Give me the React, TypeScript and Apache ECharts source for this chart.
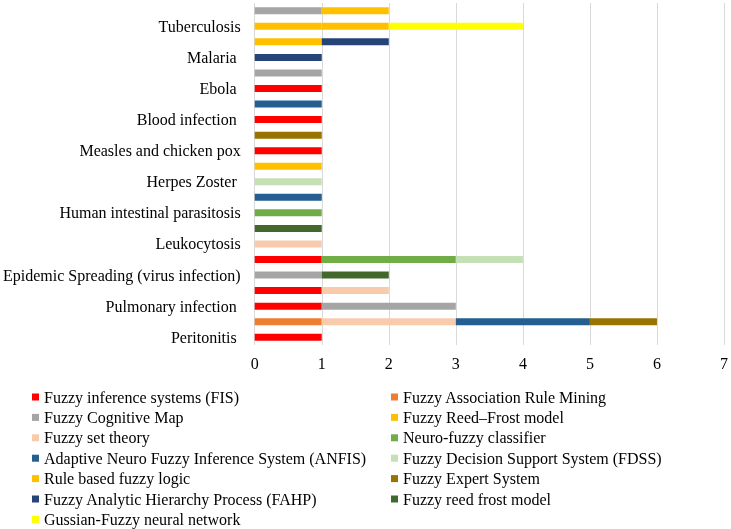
import React, { useEffect, useRef } from "react";
import * as echarts from "echarts";

// Rows from bottom (index 0) to top (index 21); only every second row carries a label
const categories = [
  "Peritonitis ", "", "Pulmonary infection ", "", "Epidemic Spreading (virus infection)", "",
  "Leukocytosis", "", "Human intestinal parasitosis", "", "Herpes Zoster ", "",
  "Measles and chicken pox", "", "Blood infection ", "", "Ebola ", "",
  "Malaria ", "", "Tuberculosis", "",
];

const seriesNames = [
  "Fuzzy inference systems (FIS)",
  "Fuzzy Association Rule Mining",
  "Fuzzy Cognitive Map",
  "Fuzzy Reed–Frost model",
  "Fuzzy set theory",
  "Neuro-fuzzy classifier",
  "Adaptive Neuro Fuzzy Inference System (ANFIS)",
  "Fuzzy Decision Support System (FDSS)",
  "Rule based fuzzy logic",
  "Fuzzy Expert System",
  "Fuzzy Analytic Hierarchy Process (FAHP)",
  "Fuzzy reed frost model",
  "Gussian-Fuzzy neural network",
];

const seriesColors = [
  "#FF0000", "#ED7D31", "#A5A5A5", "#FFC000", "#F8CBAD", "#70AD47", "#255E91",
  "#C5E0B4", "#FFC000", "#997300", "#264478", "#43682B", "#FFFF00",
];

const fisValues = [1, 0, 1, 1, 0, 1, 0, 0, 0, 0, 0, 0, 1, 0, 1, 0, 1, 0, 0, 0, 0, 0];
const farmValues = [0, 1, 0, 0, 0, 0, 0, 0, 0, 0, 0, 0, 0, 0, 0, 0, 0, 0, 0, 0, 0, 0];
const fcmValues = [0, 0, 2, 0, 1, 0, 0, 0, 0, 0, 0, 0, 0, 0, 0, 0, 0, 1, 0, 0, 0, 1];
const reedFrostValues = [0, 0, 0, 0, 0, 0, 0, 0, 0, 0, 0, 0, 0, 0, 0, 0, 0, 0, 0, 0, 1, 1];
const setTheoryValues = [0, 2, 0, 1, 0, 0, 1, 0, 0, 0, 0, 0, 0, 0, 0, 0, 0, 0, 0, 0, 0, 0];
const neuroFuzzyValues = [0, 0, 0, 0, 0, 2, 0, 0, 1, 0, 0, 0, 0, 0, 0, 0, 0, 0, 0, 0, 0, 0];
const anfisValues = [0, 2, 0, 0, 0, 0, 0, 0, 0, 1, 0, 0, 0, 0, 0, 1, 0, 0, 0, 0, 0, 0];
const fdssValues = [0, 0, 0, 0, 0, 1, 0, 0, 0, 0, 1, 0, 0, 0, 0, 0, 0, 0, 0, 0, 0, 0];
const ruleBasedValues = [0, 0, 0, 0, 0, 0, 0, 0, 0, 0, 0, 1, 0, 0, 0, 0, 0, 0, 0, 1, 1, 0];
const expertValues = [0, 1, 0, 0, 0, 0, 0, 0, 0, 0, 0, 0, 0, 1, 0, 0, 0, 0, 0, 0, 0, 0];
const fahpValues = [0, 0, 0, 0, 0, 0, 0, 0, 0, 0, 0, 0, 0, 0, 0, 0, 0, 0, 1, 1, 0, 0];
const reedFrostModelValues = [0, 0, 0, 0, 1, 0, 0, 1, 0, 0, 0, 0, 0, 0, 0, 0, 0, 0, 0, 0, 0, 0];
const gaussianValues = [0, 0, 0, 0, 0, 0, 0, 0, 0, 0, 0, 0, 0, 0, 0, 0, 0, 0, 0, 0, 2, 0];

const seriesValues = [
  fisValues, farmValues, fcmValues, reedFrostValues, setTheoryValues, neuroFuzzyValues,
  anfisValues, fdssValues, ruleBasedValues, expertValues, fahpValues, reedFrostModelValues,
  gaussianValues,
];

const xTicks = { min: 0, max: 7, interval: 1 };

const FONT = "'Liberation Serif', 'Times New Roman', serif";

export default function App() {
  const ref = useRef<HTMLDivElement>(null);
  useEffect(() => {
    if (!ref.current) return;
    const chart = echarts.init(ref.current, undefined, { renderer: "svg" });
    const leftLegend = seriesNames.filter((_, i) => i % 2 === 0);
    const rightLegend = seriesNames.filter((_, i) => i % 2 === 1);
    const legendCommon = {
      orient: "vertical" as const,
      top: 387,
      height: 160,
      padding: 0,
      itemGap: 0.4,
      itemWidth: 7,
      itemHeight: 7,
      icon: "rect",
      selectedMode: false,
      textStyle: { fontFamily: FONT, fontSize: 16, color: "#000", lineHeight: 20 },
    };
    chart.setOption({
      animation: false,
      color: seriesColors,
      textStyle: { fontFamily: FONT },
      grid: { left: 252, right: 6, top: 3, bottom: 529 - 345, containLabel: false },
      legend: [
        { ...legendCommon, left: 32, data: leftLegend },
        { ...legendCommon, left: 391, data: rightLegend },
      ],
      xAxis: {
        type: "value",
        min: xTicks.min,
        max: xTicks.max,
        interval: xTicks.interval,
        axisLine: { show: false },
        axisTick: { show: false },
        axisLabel: { fontFamily: FONT, fontSize: 16, color: "#000", margin: 10 },
        splitLine: { show: true, lineStyle: { color: "#D9D9D9", width: 1 } },
      },
      yAxis: {
        type: "category",
        data: categories,
        axisLine: { show: false },
        axisTick: { show: false },
        axisLabel: { interval: 1, fontFamily: FONT, fontSize: 16, color: "#000", margin: 14 },
        splitLine: { show: false },
      },
      series: seriesNames.map((name, i) => ({
        name,
        type: "bar",
        stack: "total",
        barWidth: 7,
        data: seriesValues[i],
        itemStyle: { color: seriesColors[i] },
      })),
    });
    return () => chart.dispose();
  }, []);
  return <div ref={ref} style={{ position: "fixed", left: 0, top: 0, width: 731, height: 529 }} />;
}
